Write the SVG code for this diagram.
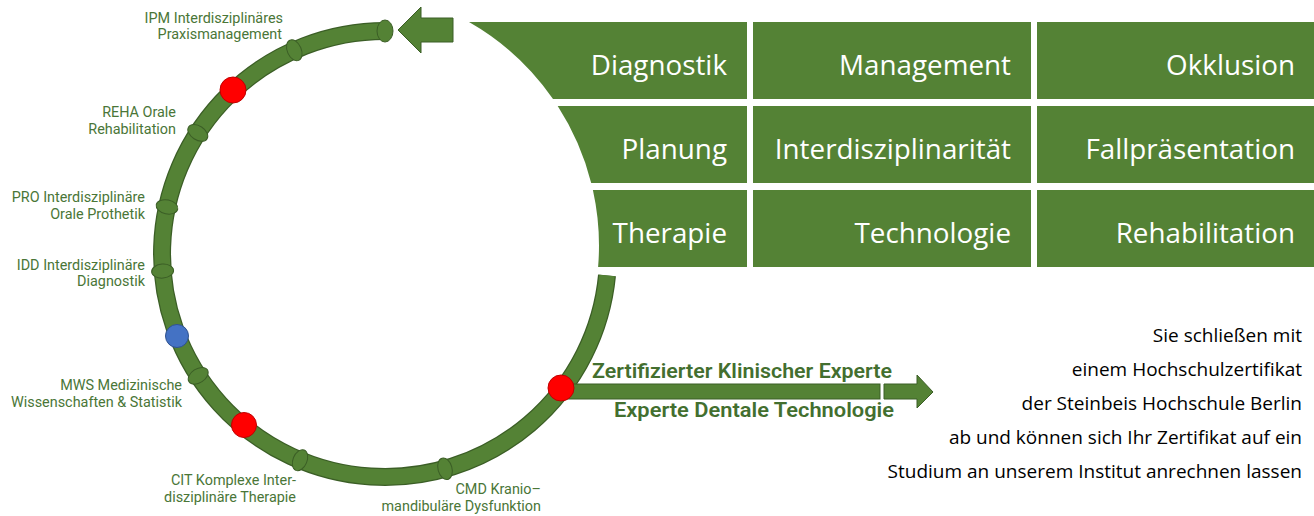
<svg xmlns="http://www.w3.org/2000/svg" width="1314" height="516" viewBox="0 0 1314 516">
  <style>
    .cell { fill: #548235; }
    .cellt { font-family: "Open Sans", "Noto Sans", sans-serif; font-size: 27.8px; fill: #ffffff; text-anchor: end; }
    .lbl { font-family: Roboto, "Liberation Sans", sans-serif; font-size: 14.4px; fill: #4a7637; text-anchor: end; }
    .bold { font-family: Roboto, "Liberation Sans", sans-serif; font-size: 21px; font-weight: 600; fill: #436f2f; }
    .info { font-family: "Open Sans", "Noto Sans", sans-serif; font-size: 19px; fill: #000000; text-anchor: end; }
    .tick { fill: #548235; stroke: #3b5e26; stroke-width: 1; }
    .shape { fill: #548235; stroke: #3b5e26; stroke-width: 1; }
    .red { fill: #ff0000; stroke: #c00000; stroke-width: 1; }
    .blue { fill: #4472c4; stroke: #2f528f; stroke-width: 1; }
  </style>

  <g id="grid">
    <g id="cell-diagnostik">
      <path class="cell" d="M469,22 H747 V99 H553 A258,258 0 0 0 469,22 Z"/>
      <text class="cellt" x="727" y="75">Diagnostik</text>
    </g>
    <g id="cell-management">
      <rect class="cell" x="753" y="22" width="278" height="77"/>
      <text class="cellt" x="1011" y="75">Management</text>
    </g>
    <g id="cell-okklusion">
      <rect class="cell" x="1037" y="22" width="277" height="77"/>
      <text class="cellt" x="1295" y="75">Okklusion</text>
    </g>
    <g id="cell-planung">
      <path class="cell" d="M557.7,106 H747 V183 H591.2 A258,258 0 0 0 557.7,106 Z"/>
      <text class="cellt" x="727" y="159">Planung</text>
    </g>
    <g id="cell-interdisziplinaritaet">
      <rect class="cell" x="753" y="106" width="278" height="77"/>
      <text class="cellt" x="1011" y="159">Interdisziplinarität</text>
    </g>
    <g id="cell-fallpraesentation">
      <rect class="cell" x="1037" y="106" width="277" height="77"/>
      <text class="cellt" x="1295" y="159">Fallpräsentation</text>
    </g>
    <g id="cell-therapie">
      <path class="cell" d="M592.9,190 H747 V267 H598.1 A258,258 0 0 0 592.9,190 Z"/>
      <text class="cellt" x="727" y="243">Therapie</text>
    </g>
    <g id="cell-technologie">
      <rect class="cell" x="753" y="190" width="278" height="77"/>
      <text class="cellt" x="1011" y="243">Technologie</text>
    </g>
    <g id="cell-rehabilitation">
      <rect class="cell" x="1037" y="190" width="277" height="77"/>
      <text class="cellt" x="1295" y="243">Rehabilitation</text>
    </g>
  </g>

  <g id="connectors">
    <g id="ring">
      <path d="M385,31 A223,223 0 1 0 607,275.4" fill="none" stroke="#3b5e26" stroke-width="18"/>
      <path d="M385,31 A223,223 0 1 0 607,275.4" fill="none" stroke="#548235" stroke-width="15.5"/>
    </g>
    <polygon id="entry-arrow" class="shape" points="398,30 421,7 421,18 453,18 453,42 421,42 421,53"/>
    <rect id="exit-shaft" class="shape" x="561" y="384" width="319" height="15"/>
    <polygon id="exit-arrow" class="shape" points="884,384 917,384 917,375 933,392 917,408 917,399 884,399"/>
  </g>

  <g id="ticks">
    <ellipse class="tick" rx="11" ry="8" transform="translate(385,31) rotate(-90)"/>
    <ellipse class="tick" rx="11" ry="7" transform="translate(294.3,50.3) rotate(-114)"/>
    <ellipse class="tick" rx="11" ry="7" transform="translate(197.8,132.9) rotate(-147.1)"/>
    <ellipse class="tick" rx="11" ry="7" transform="translate(167,206.9) rotate(-167.8)"/>
    <ellipse class="tick" rx="11" ry="7" transform="translate(162.6,271.1) rotate(175.6)"/>
    <ellipse class="tick" rx="11" ry="7" transform="translate(198.2,375.8) rotate(146.9)"/>
    <ellipse class="tick" rx="11" ry="7" transform="translate(300,460.2) rotate(112.4)"/>
    <ellipse class="tick" rx="11" ry="7" transform="translate(445,468.8) rotate(74.4)"/>
  </g>

  <g id="markers">
    <circle id="dot-reha" class="red" cx="233" cy="90" r="13"/>
    <circle id="dot-mws" class="blue" cx="177" cy="336" r="11.5"/>
    <circle id="dot-cit" class="red" cx="244" cy="425" r="12.5"/>
    <circle id="dot-exit" class="red" cx="561" cy="388" r="13"/>
  </g>

  <g id="label-ipm">
    <text class="lbl" x="283" y="23">IPM Interdisziplinäres</text>
    <text class="lbl" x="282" y="39">Praxismanagement</text>
  </g>
  <g id="label-reha">
    <text class="lbl" x="176" y="117">REHA Orale</text>
    <text class="lbl" x="176" y="134">Rehabilitation</text>
  </g>
  <g id="label-pro">
    <text class="lbl" x="145" y="202">PRO Interdisziplinäre</text>
    <text class="lbl" x="145" y="218.5">Orale Prothetik</text>
  </g>
  <g id="label-idd">
    <text class="lbl" x="145" y="269.5">IDD Interdisziplinäre</text>
    <text class="lbl" x="145" y="286">Diagnostik</text>
  </g>
  <g id="label-mws">
    <text class="lbl" x="182" y="390">MWS Medizinische</text>
    <text class="lbl" x="182" y="407">Wissenschaften &amp; Statistik</text>
  </g>
  <g id="label-cit">
    <text class="lbl" x="296" y="485">CIT Komplexe Inter-</text>
    <text class="lbl" x="296" y="502">disziplinäre Therapie</text>
  </g>
  <g id="label-cmd">
    <text class="lbl" x="541" y="494">CMD Kranio–</text>
    <text class="lbl" x="541" y="511">mandibuläre Dysfunktion</text>
  </g>

  <g id="exit-labels">
    <text class="bold" x="592" y="378" textLength="300" lengthAdjust="spacingAndGlyphs">Zertifizierter Klinischer Experte</text>
    <text class="bold" x="614" y="417" textLength="280" lengthAdjust="spacingAndGlyphs">Experte Dentale Technologie</text>
  </g>

  <g id="info-text">
    <text class="info" x="1302" y="342">Sie schließen mit</text>
    <text class="info" x="1302" y="376">einem Hochschulzertifikat</text>
    <text class="info" x="1302" y="410">der Steinbeis Hochschule Berlin</text>
    <text class="info" x="1302" y="444">ab und können sich Ihr Zertifikat auf ein</text>
    <text class="info" x="1302" y="478">Studium an unserem Institut anrechnen lassen</text>
  </g>
</svg>
